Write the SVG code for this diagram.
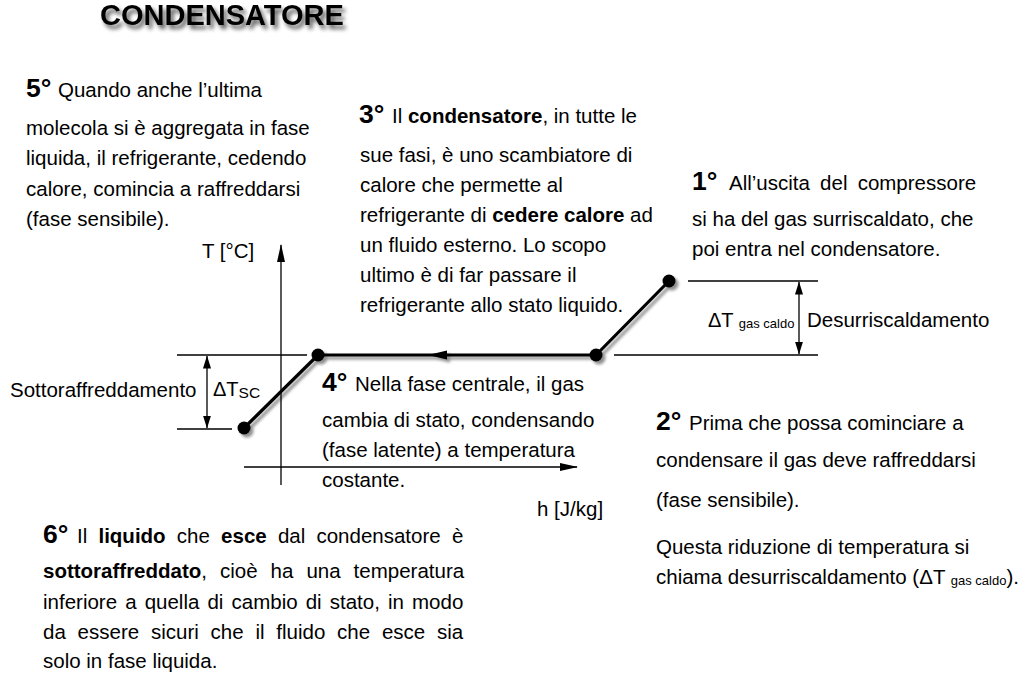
<svg xmlns="http://www.w3.org/2000/svg" width="1024" height="677" viewBox="0 0 1024 677">
<style>
text{font-family:"Liberation Sans",Arial,Helvetica,sans-serif;fill:#000}
.t{font-size:20.5px}
.n{font-size:26.5px;font-weight:bold}
.b{font-weight:bold}
.sub{font-size:13px}
.thin{stroke:#000;stroke-width:1.3;fill:none}
.thick{stroke:#000;stroke-width:3.2;fill:none;stroke-linejoin:round}
</style>
<defs>
<filter id="tsh" x="-10%" y="-40%" width="130%" height="200%">
<feGaussianBlur in="SourceAlpha" stdDeviation="2.2"/>
<feOffset dx="3" dy="4" result="o"/>
<feComponentTransfer><feFuncA type="linear" slope="0.65"/></feComponentTransfer>
<feMerge><feMergeNode/><feMergeNode in="SourceGraphic"/></feMerge>
</filter>
<filter id="lsh" x="-10%" y="-20%" width="130%" height="150%">
<feGaussianBlur in="SourceAlpha" stdDeviation="1.8"/>
<feOffset dx="3" dy="3" result="o"/>
<feComponentTransfer><feFuncA type="linear" slope="0.45"/></feComponentTransfer>
<feMerge><feMergeNode/><feMergeNode in="SourceGraphic"/></feMerge>
</filter>
<marker id="ax" viewBox="0 0 18 8" refX="17" refY="4" markerWidth="18" markerHeight="8" markerUnits="userSpaceOnUse" orient="auto-start-reverse">
<path d="M0,0 L18,4 L0,8 z" fill="#000"/>
</marker>
<marker id="dim" viewBox="0 0 13 8" refX="12.5" refY="4" markerWidth="13" markerHeight="8" markerUnits="userSpaceOnUse" orient="auto-start-reverse">
<path d="M0,0 L13,4 L0,8 z" fill="#000"/>
</marker>
</defs>
<rect width="1024" height="677" fill="#fff"/>

<text id="title" x="100" y="25" font-size="29" font-weight="bold" filter="url(#tsh)">CONDENSATORE</text>

<g id="chart">
<line class="thin" x1="281" y1="485" x2="281" y2="245" marker-end="url(#ax)"/>
<line class="thin" x1="244" y1="467" x2="577" y2="467" marker-end="url(#ax)"/>
<line class="thin" x1="177" y1="355" x2="307" y2="355"/>
<line class="thin" x1="177" y1="429" x2="232" y2="429"/>
<line class="thin" x1="688" y1="281" x2="818" y2="281"/>
<line class="thin" x1="614" y1="355" x2="818" y2="355"/>
<line class="thin" x1="207" y1="356" x2="207" y2="428" marker-start="url(#dim)" marker-end="url(#dim)"/>
<line class="thin" x1="799" y1="282" x2="799" y2="354" marker-start="url(#dim)" marker-end="url(#dim)"/>
<text class="t" x="202" y="258">T [°C]</text>
<text class="t" x="537" y="516">h [J/kg]</text>
<text class="t" x="10" y="397">Sottoraffreddamento</text>
<text x="213" y="396" font-size="20">ΔT<tspan font-size="15.5" dy="2">SC</tspan></text>
<text x="708" y="327" font-size="20">ΔT <tspan class="sub" dy="1">gas caldo</tspan></text>
<text class="t" x="807" y="327">Desurriscaldamento</text>
</g>

<g id="connectors" filter="url(#lsh)">
<path class="thick" d="M244,428 L318,355 L596,355 L669,281"/>
<polygon points="428,355 447,350.5 447,359.5" fill="#000"/>
<circle cx="244" cy="428" r="6.5" fill="#000"/>
<circle cx="318" cy="355" r="6.5" fill="#000"/>
<circle cx="596" cy="355" r="6.5" fill="#000"/>
<circle cx="669" cy="281" r="6.5" fill="#000"/>
</g>

<g id="step5">
<text class="n" x="26" y="97">5°</text>
<text class="t" x="58" y="97">Quando anche l’ultima</text>
<text class="t" x="26" y="135">molecola si è aggregata in fase</text>
<text class="t" x="26" y="165">liquida, il refrigerante, cedendo</text>
<text class="t" x="26" y="196">calore, comincia a raffreddarsi</text>
<text class="t" x="26" y="226">(fase sensibile).</text>
</g>

<g id="step3">
<text class="n" x="359" y="123">3°</text>
<text class="t" x="392" y="123">Il <tspan class="b">condensatore</tspan>, in tutte le</text>
<text class="t" x="360" y="162">sue fasi, è uno scambiatore di</text>
<text class="t" x="360" y="192">calore che permette al</text>
<text class="t" x="360" y="222">refrigerante di <tspan class="b">cedere calore</tspan> ad</text>
<text class="t" x="360" y="252">un fluido esterno. Lo scopo</text>
<text class="t" x="360" y="282">ultimo è di far passare il</text>
<text class="t" x="360" y="312">refrigerante allo stato liquido.</text>
</g>

<g id="step1">
<text class="n" x="692" y="190">1°</text>
<text class="t" x="729" y="190" word-spacing="4.5">All’uscita del compressore</text>
<text class="t" x="692" y="226">si ha del gas surriscaldato, che</text>
<text class="t" x="692" y="256">poi entra nel condensatore.</text>
</g>

<g id="step4">
<text class="n" x="322" y="391">4°</text>
<text class="t" x="355" y="391">Nella fase centrale, il gas</text>
<text class="t" x="322" y="427">cambia di stato, condensando</text>
<text class="t" x="322" y="457">(fase latente) a temperatura</text>
<text class="t" x="322" y="487">costante.</text>
</g>

<g id="step2">
<text class="n" x="656" y="430">2°</text>
<text class="t" x="689" y="430">Prima che possa cominciare a</text>
<text class="t" x="656" y="467">condensare il gas deve raffreddarsi</text>
<text class="t" x="656" y="507">(fase sensibile).</text>
<text class="t" x="656" y="554">Questa riduzione di temperatura si</text>
<text class="t" x="656" y="584">chiama desurriscaldamento (ΔT <tspan class="sub" dy="1">gas caldo</tspan><tspan dy="-1">).</tspan></text>
</g>

<g id="step6">
<text class="n" x="43" y="543">6°</text>
<text class="t" x="77" y="543" word-spacing="5.5">Il <tspan class="b">liquido</tspan> che <tspan class="b">esce</tspan> dal condensatore è</text>
<text class="t" x="43" y="578" word-spacing="7.3"><tspan class="b">sottoraffreddato</tspan>, cioè ha una temperatura</text>
<text class="t" x="43" y="609" word-spacing="2.4">inferiore a quella di cambio di stato, in modo</text>
<text class="t" x="43" y="639" word-spacing="6.1">da essere sicuri che il fluido che esce sia</text>
<text class="t" x="43" y="668">solo in fase liquida.</text>
</g>
</svg>
